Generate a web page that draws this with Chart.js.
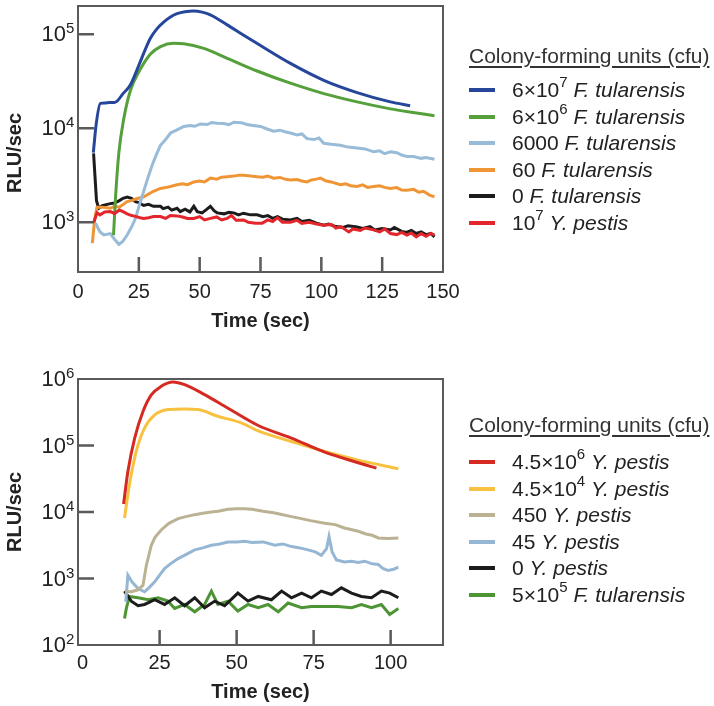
<!DOCTYPE html>
<html>
<head>
<meta charset="utf-8">
<title>Luminescence kinetics</title>
<script src="https://cdn.jsdelivr.net/npm/chart.js@4.4.1/dist/chart.umd.min.js"></script>
<style>
  body { margin: 0; background: #fff; width: 714px; height: 706px; position: relative; overflow: hidden;
         font-family: "Liberation Sans", Arial, sans-serif; color: #222; }
  .plot { position: absolute; left: 0; }
  .legend { position: absolute; left: 469px; font-size: 21px; white-space: nowrap; }
  .legend .ttl { height: 24px; line-height: 24px; text-decoration: underline; text-underline-offset: 3px; color: #333; }
  .legend .row { position: relative; height: 26.5px; line-height: 26.5px; padding-left: 43px; }
  .legend .sw { position: absolute; left: 0; top: 11px; width: 26px; height: 4px; }
  .legend sup { font-size: 15px; position: relative; top: -2px; vertical-align: super; line-height: 0; }
</style>
</head>
<body>

<canvas id="topChart" class="plot" width="470" height="340" style="top:0"></canvas>
<canvas id="botChart" class="plot" width="470" height="351" style="top:355px"></canvas>
<div id="topLegend" class="legend" style="top:44px"></div>
<div id="botLegend" class="legend" style="top:413px"></div>

<script>
// ---- top panel: F. tularensis dilutions, [time (sec), RLU/sec] ----
const ft6e7 = [[6.3,5500],[7.5,11200],[9.2,18400],[11,18600],[13,18800],[15,18800],[16.5,20000],[18.5,23400],
  [21.5,28800],[25,46800],[27.5,67600],[29.8,91200],[32.5,115000],[35.2,135000],[38,153000],[40.7,166000],
  [44,174000],[47.6,177000],[51,172000],[54.4,161000],[61.3,126000],[68.1,97700],[75,75900],[87.3,49000],
  [101,32400],[114.7,24000],[128.4,19100],[136.5,17400]];
const ft6e6 = [[14.6,730],[15.4,1800],[16.8,5500],[18.8,12600],[21.5,25100],[25,39800],[29.8,61700],[33.9,74100],
  [39.4,80200],[43.5,79400],[51.7,70800],[61.3,55600],[73.6,40700],[87.3,30200],[101,23400],[114.7,19100],
  [128.4,16100],[137,14800],[146.5,13600]];
const ft6000 = [[7.2,977],[9,794],[10.6,733],[13.3,759],[15,661],[16.8,583],[18.5,631],[20.2,733],[22,891],[23.6,1096],
  [25.3,1549],[27,2138],[28.8,3020],[30.5,4074],[32.2,5248],[33.9,6607],[36,7586],[38,8913],[40.5,9550],[43.5,10470],
  [46,10720],[48,10500],[50.3,11120],[53,10960],[55,11500],[57.2,11300],[60,11220],[62,10900],[64,11590],[67,11480],
  [69.5,10960],[72,10720],[75,10470],[78,9770],[80.4,9330],[83,9550],[85,9200],[87.3,8910],[90,8510],[92,8700],
  [94.1,7760],[97,7590],[99,7900],[101,6920],[104,6760],[107.8,6610],[111,6310],[114.7,6170],[118,6030],[121.5,5620],
  [124,5750],[126,5370],[128.4,5620],[131,5500],[133,5200],[135.2,5010],[138,5010],[141,4790],[143,4900],[146.5,4680]];
const ft60 = [[5.9,600],[6.8,1050],[7.8,1450],[10,1450],[13.3,1410],[15,1480],[17,1450],[20.2,1660],[22,1700],[24,1780],
  [27,1860],[29,2000],[31,2140],[33.9,2290],[36,2340],[38,2400],[40.7,2510],[43,2570],[45,2510],[47.6,2690],
  [50,2750],[52,2690],[54.4,2950],[57,2880],[59,3020],[61.3,3060],[64,3100],[66,3160],[68.1,3160],[71,3100],
  [73.6,3060],[76,3020],[78,3100],[80.4,2950],[83,3000],[85,2880],[87.3,2820],[90,2850],[92,2750],[94.1,2690],
  [96,2820],[98,2880],[99.6,2950],[102,2750],[104,2690],[107.8,2510],[110,2570],[112,2450],[114.7,2400],[117,2500],
  [119,2350],[121.5,2400],[124,2450],[126,2350],[128.4,2290],[131,2340],[133,2200],[135.2,2190],[138,2240],[140,2090],
  [142,2140],[144.5,1950],[146.5,1860]];
const ft0 = [[6.4,5400],[7.6,1700],[8.5,1410],[10,1500],[12,1550],[13.3,1580],[15,1600],[17,1700],[18.5,1800],[20.2,1860],
  [22,1800],[23.6,1660],[25,1620],[27,1510],[29,1550],[31,1480],[33.9,1480],[35,1400],[37,1450],[38.5,1350],
  [40.7,1410],[42,1300],[44,1380],[46,1290],[47.6,1480],[49,1300],[51,1260],[53,1380],[54.4,1480],[56,1320],
  [57.2,1260],[60,1230],[62,1280],[64,1260],[66,1200],[68,1250],[70.9,1200],[73.6,1200],[76,1150],[78,1180],
  [80,1100],[82,1150],[84,1080],[87.3,1060],[90,1100],[92,1020],[95,1050],[98,980],[101,930],[103,960],
  [106,900],[109,880],[111,920],[114.7,890],[117,860],[120,900],[122,830],[125,860],[128.4,830],[130,880],
  [133,800],[135,780],[137,820],[139,760],[141,790],[143,740],[145,760],[146.5,700]];
const yp1e7 = [[6.5,1000],[7.8,1260],[9,1200],[11,1290],[13.3,1300],[15,1240],[17,1350],[18.5,1300],[20.2,1230],[22,1180],
  [24,1150],[25.5,1120],[27,1100],[29,1120],[31,1150],[33.9,1150],[36,1100],[38,1180],[40.7,1170],[43,1140],
  [45,1100],[47.6,1100],[50,1150],[52,1060],[54.4,1100],[57,1140],[59,1060],[61.3,1100],[63,1180],[65,1050],
  [68.1,1060],[70,1000],[73,980],[75.7,980],[78,1060],[80,1020],[82,1120],[84,1000],[87.3,1000],[90,1050],
  [92,970],[95,1000],[98,960],[101,930],[104,950],[106,870],[108,900],[111.3,790],[113,850],[116,820],
  [118,870],[121.5,830],[124,790],[126,850],[128.4,760],[131,740],[133,780],[135.2,730],[137,770],[139,700],
  [141,760],[143,710],[145,760],[146.5,730]];

// ---- bottom panel: Y. pestis dilutions ----
const yp45e6 = [[13.3,13200],[14.7,40700],[16.9,129000],[19.6,324000],[22.3,575000],[25.5,776000],[29.3,902000],
  [33.1,822000],[39.6,582000],[47.2,363000],[57,200000],[67.8,129000],[78.6,79400],[89.5,55000],[95.4,45700]];
const yp45e4 = [[13.6,8130],[15.2,25700],[17.4,81300],[20.1,182000],[23.4,288000],[27.7,347000],[33.1,355000],
  [37.5,347000],[43.9,275000],[51.5,219000],[57,166000],[67.8,115000],[78.6,81300],[89.5,60300],[102.5,44700]];
const yp450 = [[14,631],[15.8,631],[18,676],[19.6,794],[20.7,1585],[22.3,3162],[23.5,4169],[25.5,5370],[28,6761],
  [31,7943],[33.5,8511],[36.4,9120],[39,9550],[41.8,10000],[44,10230],[47.2,10960],[50,11220],[52.6,11220],
  [55,10960],[58.6,10230],[62,9770],[65,9120],[67.8,8511],[71,7943],[74,7413],[78.6,6761],[82,6457],[85,5754],
  [89.5,5129],[92,4677],[94,4467],[96,4074],[99,3981],[102.5,4074]];
const yp45 = [[14,447],[14.7,1122],[16,891],[18,708],[20.1,631],[21.5,724],[23.4,891],[25,1122],[26.6,1413],[28.5,1660],
  [31,1995],[33.5,2291],[36.4,2692],[39,2884],[41.8,3162],[44.5,3311],[47.2,3548],[50,3548],[52.6,3631],[55,3467],
  [58.6,3548],[62.4,3162],[65,3311],[67.8,3020],[70.5,2884],[73.2,2692],[75.5,2512],[77.5,2239],[79.2,2818],[80,4266],
  [81,2512],[82.4,1905],[85,1778],[87.3,1820],[89.5,1738],[91.6,1820],[94,1660],[96,1622],[97.5,1413],[99.2,1318],
  [101,1380],[102.5,1479]];
const yp0 = [[13.6,646],[15.8,457],[18,389],[20.1,407],[23.4,479],[26.6,407],[29.9,513],[33.1,389],[36.4,513],[39.6,363],
  [42.9,457],[46.1,389],[50.4,603],[53.7,457],[57,537],[61.3,479],[64.6,646],[67.8,513],[71.1,603],[74.3,513],
  [77.5,646],[80.8,575],[84,724],[87.3,603],[90.5,537],[93.8,513],[97,646],[99.7,603],[102.5,513]];
const ft5e5 = [[13.6,251],[14.2,355],[15.2,537],[18,513],[21.3,479],[24.5,513],[27.7,457],[29.9,355],[33.1,407],[36.4,316],
  [39.6,407],[41.8,646],[43.9,407],[47.2,457],[50.4,324],[53.7,407],[57,363],[60.2,407],[63.5,316],[66.7,427],
  [71.1,363],[74.3,380],[78.6,380],[82.9,380],[87.3,363],[90.5,407],[93.8,363],[97,407],[99.7,288],[102.5,355]];

// legend text
const topAmounts = ['6×10', '6×10', '6000', '60', '0', '10'];
const topExps = ['7', '6', '', '', '', '7'];
const topSpecies = ['F. tularensis', 'F. tularensis', 'F. tularensis', 'F. tularensis', 'F. tularensis', 'Y. pestis'];
const botAmounts = ['4.5×10', '4.5×10', '450', '45', '0', '5×10'];
const botExps = ['6', '4', '', '', '', '5'];
const botSpecies = ['Y. pestis', 'Y. pestis', 'Y. pestis', 'Y. pestis', 'Y. pestis', 'F. tularensis'];

// axes
const topXTicks = [0, 25, 50, 75, 100, 125, 150];
const botXTicks = [0, 25, 50, 75, 100];
const topYTicks = [1e3, 1e4, 1e5];
const botYTicks = [1e2, 1e3, 1e4, 1e5, 1e6];

const topColors = ['#26469c', '#55a03a', '#98bbd8', '#f09535', '#1c1c1c', '#e2262b'];
const botColors = ['#d42a22', '#f8c13f', '#bab293', '#95b7d4', '#1c1c1c', '#4d9534'];

const FONT = '"Liberation Sans", Arial, sans-serif';
const AXIS = '#5a5a5a';

// frame, inward tick marks, 10^n labels and the rotated y title
function decorate(chart, cfg) {
  const ctx = chart.ctx;
  const a = chart.chartArea;
  const xs = chart.scales.x, ys = chart.scales.y;
  ctx.save();
  ctx.strokeStyle = AXIS;
  ctx.lineWidth = 2;
  ctx.strokeRect(a.left, a.top, a.right - a.left, a.bottom - a.top);
  ctx.lineWidth = 2.5;
  ctx.beginPath();
  for (const v of cfg.xticks) {
    if (v <= cfg.xmin + 2 || v >= cfg.xmax) continue;
    const x = xs.getPixelForValue(v);
    ctx.moveTo(x, a.bottom);
    ctx.lineTo(x, a.bottom - 15);
  }
  for (const v of cfg.yticks) {
    if (v <= cfg.ymin * 1.01 || v >= cfg.ymax * 0.99) continue;
    const y = ys.getPixelForValue(v);
    ctx.moveTo(a.left, y);
    ctx.lineTo(a.left + 16, y);
  }
  ctx.stroke();
  ctx.fillStyle = '#222';
  for (const v of cfg.yticks) {
    const y = ys.getPixelForValue(v);
    const e = String(Math.round(Math.log10(v)));
    ctx.font = '22px ' + FONT;
    ctx.textAlign = 'right';
    ctx.textBaseline = 'middle';
    ctx.fillText('10', a.left - 12, y + 1);
    ctx.font = '15px ' + FONT;
    ctx.textAlign = 'left';
    ctx.textBaseline = 'alphabetic';
    ctx.fillText(e, a.left - 12, y - 1);
  }
  ctx.translate(cfg.titleX, cfg.titleY);
  ctx.rotate(-Math.PI / 2);
  ctx.font = 'bold 20px ' + FONT;
  ctx.textAlign = 'center';
  ctx.textBaseline = 'middle';
  ctx.fillText('RLU/sec', 0, 0);
  ctx.restore();
}

function makeChart(id, series, colors, cfg) {
  const datasets = series.map((s, i) => ({
    data: s.map(p => ({ x: p[0], y: p[1] })),
    borderColor: colors[i],
    borderWidth: 3,
    pointRadius: 0,
    fill: false,
    cubicInterpolationMode: cfg.smooth.includes(i) ? 'monotone' : 'default',
    tension: cfg.smooth.includes(i) ? 0.4 : 0,
    order: cfg.onTop === i ? -1 : i
  }));
  return new Chart(document.getElementById(id), {
    type: 'line',
    data: { datasets },
    options: {
      responsive: false,
      animation: false,
      layout: { padding: { top: cfg.padTop, right: 27, left: 0, bottom: 0 } },
      plugins: { legend: { display: false }, tooltip: { enabled: false } },
      scales: {
        x: {
          type: 'linear', min: cfg.xmin, max: cfg.xmax,
          afterBuildTicks: s => { s.ticks = cfg.xticks.map(v => ({ value: v })); },
          afterFit: s => { s.height = cfg.xh; s.paddingLeft = 0; s.paddingRight = 0; },
          border: { display: false },
          grid: { display: false, tickLength: -14 },
          ticks: { padding: cfg.xpad, color: '#222', font: { family: FONT, size: 20 }, maxRotation: 0, autoSkip: false },
          title: { display: true, text: 'Time (sec)', color: '#222', font: { family: FONT, size: 20, weight: 'bold' },
                   padding: { top: 0, bottom: cfg.titlePad } }
        },
        y: {
          type: 'logarithmic', min: cfg.ymin, max: cfg.ymax,
          afterBuildTicks: s => { s.ticks = cfg.yticks.map(v => ({ value: v })); },
          afterFit: s => { s.width = 78; s.paddingTop = 0; s.paddingBottom = 0; },
          border: { display: false },
          grid: { display: false },
          ticks: { display: false }
        }
      }
    },
    plugins: [{ id: 'decor_' + id, afterDraw: chart => decorate(chart, cfg) }]
  });
}

makeChart('topChart', [ft6e7, ft6e6, ft6000, ft60, ft0, yp1e7], topColors, {
  padTop: 6, xh: 68, xpad: 22, titlePad: 7, xmin: 0, xmax: 150, xticks: topXTicks,
  ymin: 296, ymax: 200000, yticks: topYTicks, smooth: [0, 1], onTop: 5,
  titleX: 15, titleY: 153
});

makeChart('botChart', [yp45e6, yp45e4, yp450, yp45, yp0, ft5e5], botColors, {
  padTop: 24, xh: 61, xpad: 20, titlePad: 2, xmin: -1.5, xmax: 117, xticks: botXTicks,
  ymin: 100, ymax: 1e6, yticks: botYTicks, smooth: [0, 1], onTop: -9,
  titleX: 15, titleY: 157
});

function buildLegend(id, amounts, exps, species, colors) {
  let html = '<div class="ttl">Colony-forming units (cfu)</div><div class="rows">';
  amounts.forEach((a, i) => {
    html += '<div class="row"><span class="sw" style="background:' + colors[i] + '"></span>' + a +
      (exps[i] ? '<sup>' + exps[i] + '</sup>' : '') + ' <i>' + species[i] + '</i></div>';
  });
  document.getElementById(id).innerHTML = html + '</div>';
}
buildLegend('topLegend', topAmounts, topExps, topSpecies, topColors);
buildLegend('botLegend', botAmounts, botExps, botSpecies, botColors);
document.querySelector('#topLegend .rows').style.marginTop = '9px';
document.querySelector('#botLegend .rows').style.marginTop = '12px';
</script>
</body>
</html>
